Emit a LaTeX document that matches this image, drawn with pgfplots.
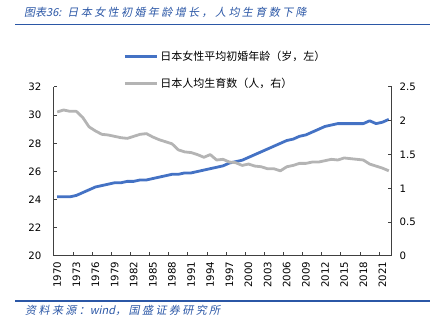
\documentclass[border=0pt]{standalone}
\usepackage{pgfplots}
\pgfplotsset{compat=1.18}
\usepackage{fontspec}
\setmainfont{Noto Sans CJK SC}
\newfontfamily\tickfont{DejaVu Sans}
\newfontfamily\titlefont[FakeSlant=0.2]{Noto Sans CJK SC}
\newfontfamily\titlefontsp[FakeSlant=0.2,LetterSpace=22]{Noto Sans CJK SC}
\definecolor{serblue}{HTML}{4472C4}
\definecolor{sergray}{HTML}{B4B4B4}
\definecolor{axgray}{HTML}{404040}
\definecolor{titleblue}{HTML}{2B57A6}
\begin{document}
\begin{tikzpicture}
\useasboundingbox (0,0) rectangle (445pt,329pt);
\node[anchor=west,inner sep=0pt,text=titleblue] at (24pt,316.5pt) {\fontsize{11}{13}\selectfont\titlefont 图表36:\hspace{6pt}\titlefontsp 日本女性初婚年龄增长，人均生育数下降};
\draw[titleblue,line width=1.3pt] (15pt,304.7pt) -- (430pt,304.7pt);
\draw[titleblue,line width=1.3pt] (15pt,28pt) -- (430pt,28pt);
\node[anchor=west,inner sep=0pt,text=titleblue] at (25pt,18.3pt) {\fontsize{11}{13}\selectfont\titlefontsp 资料来源：\titlefont wind\titlefontsp ，国盛证券研究所};
\begin{axis}[
  at={(54pt,73pt)}, anchor=south west,
  scale only axis, width=338pt, height=169pt,
  xmin=1969.5, xmax=2022.5,
  ymin=20, ymax=32,
  ytick={20,22,...,32},
  xtick={1970,1973,...,2021},
  xticklabel style={rotate=90, anchor=east, font=\fontsize{10.2}{12}\selectfont\tickfont},
  x tick label style={/pgf/number format/1000 sep=},
  major x tick style={draw=none},
  minor xtick={1969.5,1972.5,...,2021},
  minor tick length=4pt,
  major tick length=3.5pt,
  tick align=inside,
  axis x line*=bottom, axis y line*=left,
  axis line style={axgray, line width=1pt},
  every tick/.style={axgray, line width=1pt},
  yticklabel style={font=\fontsize{10.2}{12}\selectfont\tickfont, xshift=-9pt},
  /pgf/number format/assume math mode=true,
  tick label style={text=black},
  xticklabel shift=2pt,
  axis line style={-},
  clip=false,
]
\addplot[serblue, line width=2.8pt, line join=round] coordinates {
(1970,24.2)(1971,24.2)(1972,24.2)(1973,24.3)(1974,24.5)(1975,24.7)(1976,24.9)(1977,25.0)(1978,25.1)(1979,25.2)
(1980,25.2)(1981,25.3)(1982,25.3)(1983,25.4)(1984,25.4)(1985,25.5)(1986,25.6)(1987,25.7)(1988,25.8)(1989,25.8)
(1990,25.9)(1991,25.9)(1992,26.0)(1993,26.1)(1994,26.2)(1995,26.3)(1996,26.4)(1997,26.6)(1998,26.7)(1999,26.8)
(2000,27.0)(2001,27.2)(2002,27.4)(2003,27.6)(2004,27.8)(2005,28.0)(2006,28.2)(2007,28.3)(2008,28.5)(2009,28.6)
(2010,28.8)(2011,29.0)(2012,29.2)(2013,29.3)(2014,29.4)(2015,29.4)(2016,29.4)(2017,29.4)(2018,29.4)(2019,29.6)
(2020,29.4)(2021,29.5)(2022,29.7)
};
\end{axis}
\begin{axis}[
  at={(54pt,73pt)}, anchor=south west,
  scale only axis, width=338pt, height=169pt,
  xmin=1969.5, xmax=2022.5,
  ymin=0, ymax=2.5,
  ytick={0,0.5,...,2.5},
  axis x line=none,
  axis y line*=right,
  tick align=inside,
  major tick length=3.5pt,
  axis line style={axgray, line width=1pt, -},
  every tick/.style={axgray, line width=1pt},
  yticklabel style={font=\fontsize{10.2}{12}\selectfont\tickfont, xshift=4pt, /pgf/number format/fixed},
  /pgf/number format/assume math mode=true,
  tick label style={text=black},
  legend style={at={(0.205,1.225)}, anchor=north west, draw=none, fill=none,
    font=\fontsize{11}{13}\selectfont, row sep=12pt, inner sep=0pt,
    /tikz/every even column/.append style={column sep=2pt}},
  legend cell align=left,
  legend image code/.code={\draw[#1] (0pt,0pt) -- (32pt,0pt);},
  clip=false,
]
\addlegendimage{serblue, line width=2.8pt}
\addlegendentry{日本女性平均初婚年龄（岁，左）}
\addplot[sergray, line width=2.8pt, line join=round] coordinates {
(1970,2.13)(1971,2.16)(1972,2.14)(1973,2.14)(1974,2.05)(1975,1.91)(1976,1.85)(1977,1.80)(1978,1.79)(1979,1.77)
(1980,1.75)(1981,1.74)(1982,1.77)(1983,1.80)(1984,1.81)(1985,1.76)(1986,1.72)(1987,1.69)(1988,1.66)(1989,1.57)
(1990,1.54)(1991,1.53)(1992,1.50)(1993,1.46)(1994,1.50)(1995,1.42)(1996,1.43)(1997,1.39)(1998,1.38)(1999,1.34)
(2000,1.36)(2001,1.33)(2002,1.32)(2003,1.29)(2004,1.29)(2005,1.26)(2006,1.32)(2007,1.34)(2008,1.37)(2009,1.37)
(2010,1.39)(2011,1.39)(2012,1.41)(2013,1.43)(2014,1.42)(2015,1.45)(2016,1.44)(2017,1.43)(2018,1.42)(2019,1.36)
(2020,1.33)(2021,1.30)(2022,1.26)
};
\addlegendentry{日本人均生育数（人，右）}
\end{axis}
\end{tikzpicture}
\end{document}
